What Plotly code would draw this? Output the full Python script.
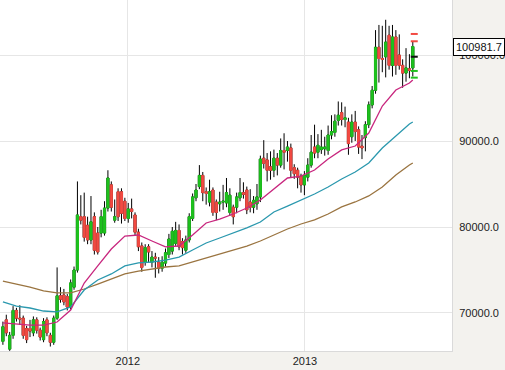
import plotly.graph_objects as go
import pandas as pd

# ---------------- data (weekly candles) ----------------
start_date = "2011-04-18"

open_ = [66700, 69200, 65800, 67400, 70300, 69400, 69400, 68200, 68200, 67700,
         69200, 68000, 66900, 69200, 67400, 66600, 69400, 72000, 72100, 71900,
         70700, 73000, 75000, 81200, 81200, 80200, 78500, 81200, 79300, 79300,
         79300, 82200, 84900, 80800, 84100, 84100, 83000, 81000, 82100, 81400,
         79400, 77800, 75900, 77700, 75900, 76500, 75900, 75200, 75800, 76800,
         77200, 78100, 79600, 78300, 77300, 78500, 81000, 83400, 84700, 86000,
         84100, 82900, 84300, 82900, 82700, 82900, 82800, 81700, 82300, 82300,
         83400, 84000, 84300, 82900, 82300, 82700, 83500, 88000, 87800, 87000,
         86600, 88000, 87200, 88900, 88900, 89200, 86900, 86600, 85900, 84900,
         85800, 87200, 89300, 88700, 89000, 89100, 88900, 90700, 91000, 92400,
         93300, 92500, 92200, 90500, 92200, 91300, 89400, 90400, 91900, 94200,
         95900, 100900, 99600, 99800, 102300, 98800, 102100, 100000, 98800, 97900,
         98400, 98500]
high = [69000, 69800, 67800, 70800, 70600, 70900, 69700, 68500, 69200, 69600,
        69500, 68300, 69400, 69500, 67700, 69700, 75300, 73000, 72800, 72200,
        73900, 75400, 85300, 83700, 84000, 81200, 83600, 81700, 80000, 82000,
        83000, 86600, 85300, 83200, 84500, 84500, 83400, 82800, 83300, 81700,
        79800, 78200, 78000, 78000, 77200, 77000, 76500, 76600, 77500, 79200,
        80000, 80600, 80300, 78700, 79000, 81600, 83900, 85000, 87200, 86400,
        84600, 85500, 84600, 83200, 84100, 84900, 85700, 84500, 82600, 84000,
        85700, 85200, 84700, 84400, 83600, 85000, 88300, 90100, 88600, 88800,
        89000, 88600, 90300, 90900, 90000, 89700, 87300, 86900, 86200, 86500,
        88000, 90700, 91900, 90800, 91300, 90500, 91800, 93000, 93100, 94600,
        94500, 94000, 92700, 93100, 93500, 91700, 90700, 92300, 94600, 96400,
        102900, 103500, 103400, 104100, 103400, 103500, 102900, 102400, 99500, 100800,
        100100, 101600]
low = [66300, 67300, 65600, 67000, 69000, 68600, 67000, 66500, 67200, 67300,
       67600, 66800, 66600, 67300, 66100, 66300, 69200, 71200, 70900, 70300,
       70400, 72700, 74700, 80300, 78300, 78000, 78000, 76800, 76800, 78800,
       79000, 81800, 81800, 80500, 80700, 80400, 80700, 80500, 81000, 79000,
       77200, 74800, 75500, 75900, 75300, 74100, 74600, 74800, 75400, 76400,
       76800, 77800, 77300, 76800, 77000, 78200, 80700, 83000, 84400, 83000,
       82600, 82400, 81300, 80800, 81800, 82000, 82300, 81300, 80300, 81600,
       83000, 83300, 81500, 81700, 81600, 82000, 82900, 86800, 85300, 85500,
       85800, 86000, 86900, 86700, 87600, 85800, 85600, 84500, 84000, 83700,
       85300, 86900, 88000, 88000, 88500, 88300, 88400, 90200, 90500, 91800,
       91800, 91600, 88400, 89800, 90000, 88500, 87900, 88800, 91500, 93800,
       95500, 96800, 98000, 97400, 98300, 97500, 97700, 98300, 96200, 96900,
       97300, 97500]
close = [68400, 67700, 67400, 70300, 69400, 69300, 67400, 66900, 67900, 69200,
         68000, 67200, 69000, 67700, 66600, 69400, 72000, 71600, 71300, 70700,
         73500, 75000, 81400, 80800, 78800, 78500, 80600, 77300, 77100, 81200,
         82200, 85700, 82300, 81200, 81200, 81600, 81000, 82100, 81800, 79400,
         77700, 75300, 77600, 77100, 76500, 76400, 75200, 75900, 77000, 78600,
         79500, 79600, 77700, 77600, 78500, 81200, 83500, 84300, 86000, 84000,
         83900, 84100, 81700, 81700, 82900, 83000, 84000, 83700, 81200, 83500,
         84000, 83800, 82000, 82300, 83100, 83500, 87900, 87400, 86600, 86600,
         88000, 87200, 88900, 88700, 89300, 86600, 86200, 85800, 84900, 86000,
         87200, 88700, 88600, 89500, 89300, 89300, 90700, 91100, 92300, 93000,
         92500, 92700, 89700, 92200, 91100, 89300, 89200, 91900, 94200, 95900,
         100900, 99600, 99500, 101500, 98800, 102100, 98800, 98800, 97900, 98500,
         98200, 100981.7]

# moving averages at 4-week steps
ma_dates = ["2011-04-18", "2011-05-16", "2011-06-13", "2011-07-11", "2011-08-08",
            "2011-09-05", "2011-10-03", "2011-10-31", "2011-11-28", "2011-12-26",
            "2012-01-23", "2012-02-20", "2012-03-19", "2012-04-16", "2012-05-14",
            "2012-06-11", "2012-07-09", "2012-08-06", "2012-09-03", "2012-10-01",
            "2012-10-29", "2012-11-26", "2012-12-24", "2013-01-21", "2013-02-18",
            "2013-03-18", "2013-04-15", "2013-05-13", "2013-06-10", "2013-07-08",
            "2013-08-05", "2013-08-12"]
ma_fast = [68840, 68720, 68600, 68600, 68950, 70350, 73490, 75470, 77440, 78950,
           79070, 78370, 77680, 77790, 79070, 80470, 80930, 81510, 82210, 83140,
           84420, 85700, 85930, 86630, 87910, 88960, 89420, 90930, 94070, 95930,
           96750, 97100]
ma_mid = [71280, 70810, 70580, 70230, 70120, 70700, 72670, 73840, 74540, 75470,
          75820, 75930, 76160, 76510, 77330, 78140, 78720, 79300, 79890, 80580,
          81750, 82440, 83140, 83840, 84650, 85580, 86400, 87450, 89190, 90590,
          91980, 92210]
ma_slow = [73720, 73370, 73020, 72560, 72330, 72330, 72790, 73370, 73950, 74540,
           74880, 75120, 75350, 75470, 75930, 76400, 76860, 77330, 77790, 78370,
           79070, 79770, 80350, 80820, 81510, 82330, 82910, 83610, 84650, 86050,
           87210, 87450]

# level dashes next to the last candle
level_date = "2013-08-15"
levels_red = [102450, 101600]
levels_black = [99800]
levels_green = [98150, 97370]

y_ticks = [70000, 80000, 90000, 100000]
x_ticks = ["2012-01-01", "2013-01-01"]
x_labels = ["2012", "2013"]

# ---------------- figure ----------------
GREEN = "#1ec21e"
RED = "#f24a42"
dates = pd.date_range(start_date, periods=len(close), freq="7D")
body_hi = [max(o, c) for o, c in zip(open_, close)]
body_lo = [min(o, c) for o, c in zip(open_, close)]

fig = go.Figure()
# wicks (black)
fig.add_trace(go.Candlestick(
    x=dates, open=open_, high=high, low=low, close=close,
    increasing=dict(line=dict(color="#000000", width=1), fillcolor="#000000"),
    decreasing=dict(line=dict(color="#000000", width=1), fillcolor="#000000"),
    whiskerwidth=0, hoverinfo="skip", showlegend=False))
# coloured bodies
fig.add_trace(go.Candlestick(
    x=dates, open=open_, high=body_hi, low=body_lo, close=close,
    increasing=dict(line=dict(color=GREEN, width=1), fillcolor=GREEN),
    decreasing=dict(line=dict(color=RED, width=1), fillcolor=RED),
    whiskerwidth=0, hoverinfo="skip", showlegend=False))

for vals, col in [(ma_slow, "#9a7440"), (ma_mid, "#2a98ae"), (ma_fast, "#c8267e")]:
    fig.add_trace(go.Scatter(x=ma_dates, y=vals, mode="lines",
                             line=dict(color=col, width=1.3),
                             hoverinfo="skip", showlegend=False))

for vals, col in [(levels_red, RED), (levels_black, "#111111"), (levels_green, GREEN)]:
    fig.add_trace(go.Scatter(x=[level_date] * len(vals), y=vals, mode="markers",
                             marker=dict(symbol="line-ew", size=5,
                                         line=dict(color=col, width=2)),
                             hoverinfo="skip", showlegend=False))

fig.add_annotation(x=1, xref="paper", xanchor="left", xshift=1,
                   y=close[-1], yref="y", yanchor="middle",
                   text=f"{close[-1]:.1f}", showarrow=False,
                   font=dict(family="Liberation Sans, Arial", size=11, color="#111111"),
                   bgcolor="white", bordercolor="black", borderwidth=1, borderpad=2)

fig.update_layout(
    width=505, height=370,
    margin=dict(l=0, r=51, t=0, b=19),
    paper_bgcolor="#f3f2ee", plot_bgcolor="white",
    boxgap=0.1,
    showlegend=False,
    font=dict(family="Liberation Sans, Arial", size=11, color="#333333"),
    xaxis=dict(type="date", range=["2011-04-12", "2013-11-01"],
               tickvals=x_ticks, ticktext=x_labels,
               showgrid=True, gridcolor="#e6e6e6", gridwidth=1,
               showline=True, linecolor="#dadada", linewidth=1,
               ticks="", zeroline=False, rangeslider=dict(visible=False),
               tickfont=dict(size=11, color="#222222")),
    yaxis=dict(side="right", range=[65580, 106400],
               tickvals=y_ticks, tickformat=".1f",
               showgrid=True, gridcolor="#e6e6e6", gridwidth=1,
               showline=True, linecolor="#dadada", linewidth=1,
               ticks="outside", ticklen=4, tickcolor="rgba(0,0,0,0)",
               zeroline=False,
               tickfont=dict(size=11, color="#222222")),
)

fig.write_html("out.html", config={"displayModeBar": False},
               post_script="document.body.style.margin='0';")
